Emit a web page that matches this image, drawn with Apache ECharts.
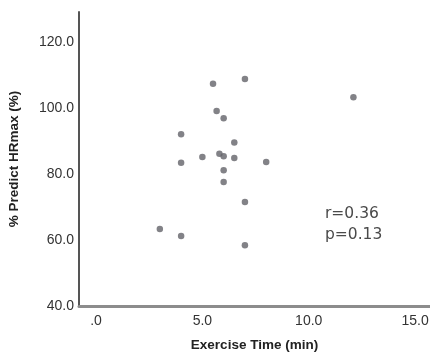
<!DOCTYPE html>
<html>
<head>
<meta charset="utf-8">
<script src="https://cdn.jsdelivr.net/npm/echarts@6/dist/echarts.min.js"></script>
<style>html,body{margin:0;padding:0;background:#fff}#c{width:430px;height:356px}</style>
</head>
<body>
<div id="c"></div>
<script>
const exerciseTime = [3.0, 4.0, 4.0, 4.0, 5.0, 5.5, 5.67, 5.8, 6.0, 6.0, 6.0, 6.0, 6.5, 6.5, 7.0, 7.0, 7.0, 8.0, 12.1];
const predictHR   = [63.3, 61.2, 92.0, 83.4, 85.1, 107.3, 99.0, 86.1, 96.8, 85.3, 81.1, 77.5, 89.5, 84.8, 108.7, 71.5, 58.4, 83.6, 103.2];
const xTicks = [0, 5, 10, 15];
const yTicks = [40, 60, 80, 100, 120];
const xTickLabels = ['.0', '5.0', '10.0', '15.0'];
const yTickLabels = ['40.0', '60.0', '80.0', '100.0', '120.0'];
const statLines = ['r=0.36', 'p=0.13'];

const pts = exerciseTime.map((x, i) => [x, predictHR[i]]);
const chart = echarts.init(document.getElementById('c'), null, {renderer: 'canvas'});
chart.setOption({
  animation: false,
  backgroundColor: '#fff',
  grid: {left: 79, right: 0, top: 12, bottom: 50, outerBoundsMode: 'none', containLabel: false},
  xAxis: {
    type: 'value', min: -0.8, max: 15.7,
    name: 'Exercise Time (min)', nameLocation: 'middle', nameGap: 32,
    nameTextStyle: {fontFamily: 'Liberation Sans', fontWeight: 'bold', fontSize: 13.5, color: '#222'},
    axisLine: {show: true, onZero: false, lineStyle: {color: '#8c8c8c', width: 3}},
    axisTick: {show: false},
    splitLine: {show: false},
    axisLabel: {
      customValues: xTicks, margin: 8,
      fontFamily: 'Liberation Sans', fontSize: 14, color: '#333',
      formatter: v => xTickLabels[xTicks.indexOf(v)]
    }
  },
  yAxis: {
    type: 'value', min: 40, max: 129,
    name: '% Predict HRmax (%)', nameLocation: 'middle', nameGap: 58, nameRotate: 90,
    nameTextStyle: {fontFamily: 'Liberation Sans', fontWeight: 'bold', fontSize: 13.5, color: '#222'},
    axisLine: {show: true, onZero: false, lineStyle: {color: '#555', width: 2}},
    axisTick: {show: false},
    splitLine: {show: false},
    axisLabel: {
      customValues: yTicks, margin: 5,
      fontFamily: 'Liberation Sans', fontSize: 14, color: '#333',
      formatter: v => yTickLabels[yTicks.indexOf(v)]
    }
  },
  series: [{
    type: 'scatter', data: pts, symbol: 'circle', symbolSize: 6.5,
    itemStyle: {color: '#636369'}
  }],
  graphic: [{
    type: 'text', left: 325, top: 203,
    style: {text: statLines.join('\n'), fontFamily: 'DejaVu Sans', fontSize: 15.5, lineHeight: 21, fill: '#4a4a4a'}
  }]
});
</script>
</body>
</html>
